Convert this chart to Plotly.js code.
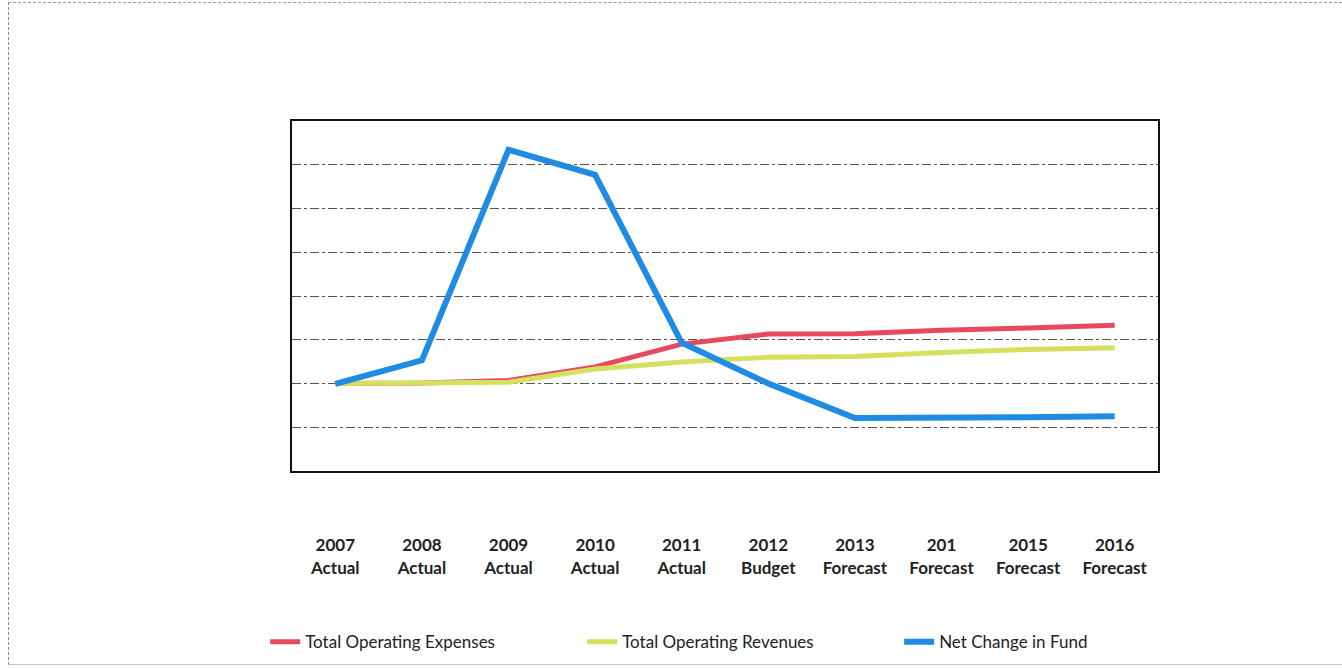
<!DOCTYPE html>
<html>
<head>
<meta charset="utf-8">
<script src="https://cdn.plot.ly/plotly-3.0.1.min.js"></script>
<style>
html,body{margin:0;padding:0;background:#fff;}
#frame{position:absolute;left:8px;top:2px;width:1334px;height:663px;border-top:1px dashed #9a9a9a;border-left:1px dashed #8a8a8a;border-bottom:1px solid #c8c8c8;box-sizing:border-box;}
#chart{position:absolute;left:0;top:0;width:1342px;height:668px;}
</style>
</head>
<body>
<div id="frame"></div>
<div id="chart"></div>
<script>
const years = ["2007","2008","2009","2010","2011","2012","2013","201","2015","2016"];
const kinds = ["Actual","Actual","Actual","Actual","Actual","Budget","Forecast","Forecast","Forecast","Forecast"];
const expenses = [2.0, 2.01, 2.07, 2.38, 2.9, 3.13, 3.14, 3.22, 3.27, 3.33];
const revenues = [2.0, 2.01, 2.03, 2.33, 2.49, 2.6, 2.62, 2.71, 2.78, 2.82];
const netChange = [1.99, 2.53, 7.34, 6.77, 2.93, 2.0, 1.21, 1.21, 1.23, 1.25];

const cats = years.map((y,i)=>i);
const tickText = years.map((y,i)=>"<b>"+y+"</b><br><b>"+kinds[i]+"</b>");

const traces = [
  {x:cats, y:expenses, name:"Total Operating Expenses", mode:"lines", line:{color:"#e8495f", width:5}},
  {x:cats, y:revenues, name:"Total Operating Revenues", mode:"lines", line:{color:"#d5e15e", width:5}},
  {x:cats, y:netChange, name:"Net Change in Fund", mode:"lines", line:{color:"#1f8be2", width:6}}
];

const layout = {
  width:1342, height:668,
  margin:{l:292, r:184, t:121, b:197, autoexpand:false},
  paper_bgcolor:"rgba(0,0,0,0)",
  plot_bgcolor:"#fff",
  showlegend:true,
  font:{family:"Lato, 'Open Sans', sans-serif", color:"#222"},
  xaxis:{
    range:[-0.5,9.5], tickvals:cats, ticktext:tickText, showgrid:false, zeroline:false,
    ticks:"", ticklabelstandoff:58, tickfont:{size:17, color:"#222"},
    showline:true, linecolor:"#111", linewidth:2, mirror:true, fixedrange:true
  },
  yaxis:{
    range:[0,8], dtick:1, tick0:0, showticklabels:false, ticks:"",
    showgrid:true, gridcolor:"#555", gridwidth:1, griddash:"dashdot", zeroline:false,
    showline:true, linecolor:"#111", linewidth:2, mirror:true, fixedrange:true
  },
  legend:{
    orientation:"h", x:-0.031, xanchor:"left", y:-0.489, yanchor:"middle",
    entrywidth:272, entrywidthmode:"pixels", font:{size:17, color:"#222"},
    bgcolor:"rgba(0,0,0,0)"
  }
};

Plotly.newPlot("chart", traces, layout, {displayModeBar:false, staticPlot:true});
</script>
</body>
</html>
